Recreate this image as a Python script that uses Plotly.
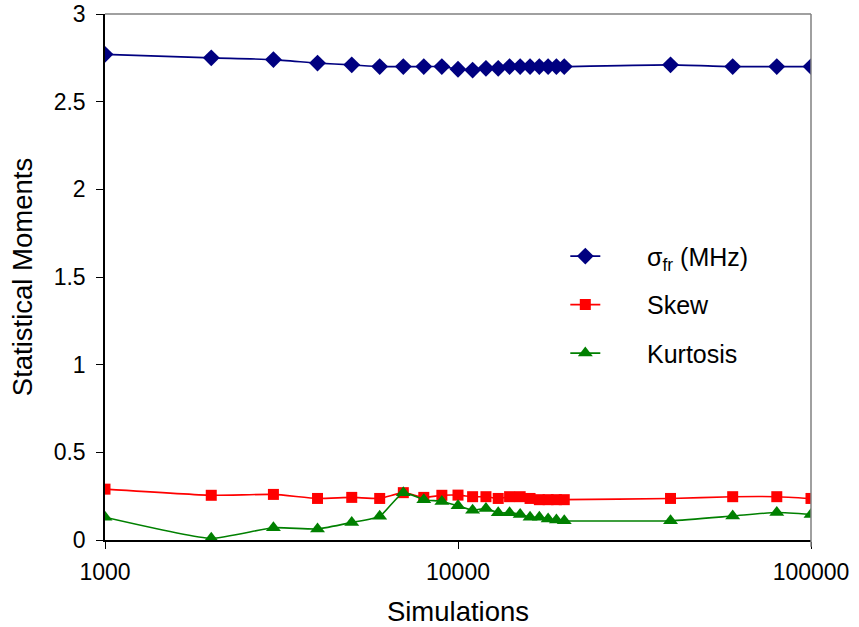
import plotly.graph_objects as go

# Number of simulations (log-scaled x axis)
simulations = [1000, 2000, 3000, 4000, 5000, 6000, 7000, 8000, 9000, 10000,
               11000, 12000, 13000, 14000, 15000, 16000, 17000, 18000, 19000, 20000,
               40000, 60000, 80000, 100000]

# Statistical moments per run size
sigma_fr = [2.77, 2.75, 2.74, 2.72, 2.71, 2.70, 2.70, 2.70, 2.70, 2.685,
            2.68, 2.69, 2.69, 2.70, 2.70, 2.70, 2.70, 2.70, 2.70, 2.70,
            2.71, 2.70, 2.70, 2.70]
skew = [0.29, 0.255, 0.26, 0.237, 0.243, 0.237, 0.27, 0.243, 0.255, 0.256,
        0.247, 0.247, 0.237, 0.247, 0.247, 0.237, 0.23, 0.23, 0.23, 0.23,
        0.237, 0.247, 0.247, 0.237]
kurtosis = [0.13, 0.01, 0.07, 0.063, 0.10, 0.135, 0.27, 0.23, 0.22, 0.195,
            0.17, 0.18, 0.155, 0.155, 0.146, 0.13, 0.13, 0.12, 0.114, 0.11,
            0.11, 0.137, 0.157, 0.146]

y_ticks = [0, 0.5, 1, 1.5, 2, 2.5, 3]
y_tick_text = ["0", "0.5", "1", "1.5", "2", "2.5", "3"]
x_ticks = [1000, 10000, 100000]
x_tick_text = ["1000", "10000", "100000"]

FONT = "Liberation Sans, Arial, sans-serif"
PAD = "\u00a0" * 6  # spacing between legend key and label

series = [
    ("σ<sub>fr</sub> (MHz)", sigma_fr, "#000080", "diamond", 13),
    ("Skew", skew, "#FF0000", "square", 11),
    ("Kurtosis", kurtosis, "#008000", "triangle-up", 13),
]

fig = go.Figure()
for i, (name, vals, color, symbol, size) in enumerate(series):
    fig.add_trace(go.Scatter(
        x=simulations, y=vals, name=PAD + name, mode="lines+markers",
        legendgroup=f"g{i}",
        line=dict(color=color, width=1.6, shape="spline", smoothing=0.5),
        marker=dict(color=color, symbol=symbol, size=size, line=dict(width=0)),
    ))

fig.update_layout(
    width=859, height=627,
    margin=dict(l=105, r=48, t=14, b=87),
    paper_bgcolor="white", plot_bgcolor="white",
    font=dict(family=FONT, size=23, color="black"),
    showlegend=True,
    legend=dict(x=0.652, y=0.583, xanchor="left", yanchor="top",
                bgcolor="rgba(0,0,0,0)", borderwidth=0,
                font=dict(size=25, family=FONT),
                traceorder="grouped", tracegroupgap=13),
    xaxis=dict(
        type="log", range=[3, 5], automargin=False,
        tickvals=x_ticks, ticktext=x_tick_text,
        ticks="outside", ticklen=7, tickcolor="black",
        showline=True, linecolor="black", linewidth=1.5,
        showgrid=False, zeroline=False,
        tickfont=dict(size=23),
        ticklabelstandoff=4,
        title=dict(text="Simulations", font=dict(size=27.5), standoff=18),
    ),
    yaxis=dict(
        range=[0, 3], automargin=False,
        tickvals=y_ticks, ticktext=y_tick_text,
        ticks="outside", ticklen=7, tickcolor="black",
        showline=True, linecolor="black", linewidth=1.5,
        showgrid=False, zeroline=False,
        tickfont=dict(size=23),
        ticklabelstandoff=6,
        title=dict(text="Statistical Moments", font=dict(size=27.5), standoff=13),
    ),
)

# Gray top and right frame of the plotting area
fig.add_shape(type="line", xref="paper", yref="paper", x0=0, x1=1, y0=1, y1=1,
              line=dict(color="#808080", width=1.5))
fig.add_shape(type="line", xref="paper", yref="paper", x0=1, x1=1, y0=-0.013, y1=1,
              line=dict(color="#808080", width=1.5))

fig.write_html("out.html")
